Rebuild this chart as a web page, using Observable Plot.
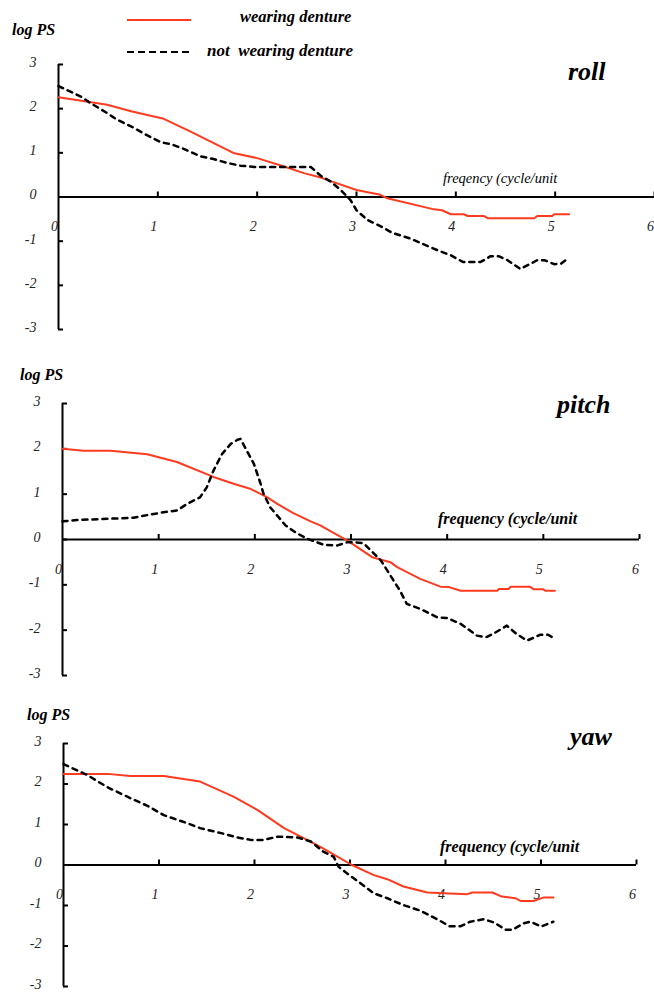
<!DOCTYPE html>
<html><head><meta charset="utf-8">
<script src="https://cdn.jsdelivr.net/npm/d3@7"></script>
<script src="https://cdn.jsdelivr.net/npm/@observablehq/plot@0.6"></script>
<style>
body{margin:0;background:#fff;}
#root{position:relative;width:654px;height:992px;overflow:hidden;font-family:"Liberation Serif","Times New Roman",serif;}
.panel{position:absolute;left:0;}
.lbl{position:absolute;white-space:pre;font-style:italic;line-height:1;color:#000;transform:translateY(-50%);}
.b{font-weight:bold;}
</style></head><body><div id="root"></div>
<script>
// ---- tick values ----
const xTicks = [1, 2, 3, 4, 5, 6];
const xTickLabels = [0, 1, 2, 3, 4, 5, 6];
const yTicks = [-3, -2, -1, 0, 1, 2, 3];
const seriesNames = ["wearing denture", "not  wearing denture"];
const panelNames = ["roll", "pitch", "yaw"];

// ---- roll ----
const rollWearF = [0,0.49,0.73,1.06,1.33,1.77,2.0,2.27,2.47,2.64,2.74,3.0,3.24,3.31,3.78,3.86,3.95,4.08,4.12,4.28,4.32,4.79,4.82,4.97,4.99,5.14];
const rollWearV = [2.26,2.09,1.94,1.77,1.48,0.99,0.88,0.69,0.54,0.44,0.36,0.16,0.05,-0.03,-0.28,-0.30,-0.39,-0.39,-0.43,-0.43,-0.48,-0.48,-0.43,-0.43,-0.39,-0.39];
const rollNoF = [0,0.22,0.32,0.49,0.59,0.73,0.89,1.03,1.14,1.26,1.43,1.56,1.70,1.83,1.97,2.27,2.54,2.64,2.74,2.84,2.94,3.0,3.11,3.24,3.36,3.54,3.81,3.95,4.07,4.25,4.35,4.43,4.52,4.65,4.82,4.89,4.99,5.06,5.14];
const rollNoV = [2.51,2.28,2.13,1.90,1.75,1.60,1.40,1.24,1.19,1.09,0.92,0.86,0.77,0.71,0.68,0.68,0.68,0.48,0.35,0.16,-0.07,-0.30,-0.52,-0.66,-0.81,-0.94,-1.20,-1.32,-1.47,-1.47,-1.34,-1.34,-1.43,-1.63,-1.43,-1.43,-1.52,-1.51,-1.37];

// ---- pitch ----
const pitchWearF = [0,0.22,0.5,0.88,1.19,1.57,1.78,1.95,2.13,2.23,2.40,2.58,2.68,2.79,2.96,3.22,3.41,3.48,3.72,3.93,4.02,4.14,4.52,4.54,4.64,4.66,4.86,4.90,5.0,5.02,5.12];
const pitchWearV = [2.0,1.96,1.96,1.88,1.71,1.38,1.23,1.12,0.93,0.79,0.58,0.40,0.31,0.18,-0.02,-0.39,-0.50,-0.61,-0.87,-1.04,-1.05,-1.13,-1.13,-1.09,-1.09,-1.04,-1.04,-1.10,-1.10,-1.13,-1.13];
const pitchNoF = [0,0.15,0.74,0.91,1.05,1.19,1.30,1.43,1.50,1.57,1.66,1.75,1.82,1.85,1.99,2.06,2.09,2.16,2.32,2.42,2.54,2.72,2.86,2.96,3.03,3.13,3.31,3.51,3.58,3.72,3.90,4.0,4.14,4.31,4.40,4.48,4.62,4.72,4.83,4.97,5.05,5.12];
const pitchNoV = [0.40,0.43,0.48,0.55,0.60,0.64,0.79,0.93,1.15,1.52,1.89,2.11,2.20,2.22,1.67,1.23,1.01,0.71,0.31,0.16,0.02,-0.12,-0.13,-0.06,-0.06,-0.08,-0.46,-1.13,-1.42,-1.53,-1.72,-1.73,-1.86,-2.12,-2.16,-2.08,-1.90,-2.08,-2.23,-2.10,-2.10,-2.19];

// ---- yaw ----
const yawWearF = [0,0.46,0.70,1.05,1.43,1.78,2.03,2.31,2.55,2.69,2.80,3.02,3.25,3.39,3.56,3.81,3.98,4.23,4.28,4.49,4.59,4.73,4.79,4.92,5.03,5.13];
const yawWearV = [2.25,2.25,2.20,2.20,2.06,1.69,1.36,0.91,0.62,0.45,0.30,0.0,-0.25,-0.35,-0.53,-0.68,-0.70,-0.72,-0.68,-0.68,-0.78,-0.82,-0.89,-0.89,-0.80,-0.80];
const yawNoF = [0,0.25,0.46,0.70,0.88,1.05,1.30,1.43,1.68,1.82,1.96,2.10,2.24,2.45,2.59,2.72,2.83,2.88,2.97,3.11,3.25,3.39,3.56,3.74,3.93,4.04,4.16,4.26,4.40,4.51,4.63,4.70,4.82,4.89,5.0,5.13];
const yawNoV = [2.49,2.22,1.92,1.65,1.46,1.23,1.03,0.91,0.77,0.68,0.62,0.62,0.70,0.68,0.58,0.33,0.20,-0.04,-0.21,-0.45,-0.70,-0.82,-0.99,-1.13,-1.36,-1.51,-1.51,-1.40,-1.34,-1.42,-1.60,-1.60,-1.44,-1.40,-1.52,-1.40];

const RED = "#ff3b1f";
const zip = (F, V) => F.map((f, i) => ({f, v: V[i]}));

function makePanel({top, height, marginLeft, marginRight, marginTop, marginBottom, wear, nowear}) {
  const width = 654;
  const frameW = width - marginLeft - marginRight;
  const frameH = height - marginTop - marginBottom;
  const svg = Plot.plot({
    width, height, marginLeft, marginRight, marginTop, marginBottom,
    x: {domain: [0, 6], axis: null},
    y: {domain: [-3, 3], axis: null},
    style: {fontFamily: "'Liberation Serif', 'Times New Roman', serif", fontStyle: "italic", fontSize: "14px", background: "transparent", color: "#000"},
    marks: [
      Plot.ruleY([0], {stroke: "#000", strokeWidth: 1.8}),
      Plot.ruleX([0], {y1: -3, y2: 3, stroke: "#000", strokeWidth: 2}),
      Plot.tickY(yTicks, {y: d => d, insetRight: frameW - 5, stroke: "#000", strokeWidth: 2}),
      Plot.tickX(xTicks, {x: d => d, insetTop: frameH / 2 - 5, insetBottom: frameH / 2, stroke: "#000", strokeWidth: 2}),
      Plot.axisY({ticks: yTicks, tickSize: 0, tickPadding: 22, dy: -2, tickFormat: d => String(d), label: null, fill: "#222"}),
      Plot.text(xTickLabels, {x: d => d, y: 0, dy: 30, dx: -4, text: d => String(d), fill: "#222"}),
      Plot.line(zip(...wear), {x: "f", y: "v", stroke: RED, strokeWidth: 2}),
      Plot.line(zip(...nowear), {x: "f", y: "v", stroke: "#000", strokeWidth: 2.5, strokeDasharray: "5,5"})
    ]
  });
  const div = document.createElement("div");
  div.className = "panel";
  div.style.top = top + "px";
  div.appendChild(svg);
  return div;
}

const root = document.getElementById("root");
root.appendChild(makePanel({top: 0, height: 345, marginLeft: 58, marginRight: 0, marginTop: 64, marginBottom: 16, wear: [rollWearF, rollWearV], nowear: [rollNoF, rollNoV]}));
root.appendChild(makePanel({top: 345, height: 340, marginLeft: 62, marginRight: 15, marginTop: 58, marginBottom: 10, wear: [pitchWearF, pitchWearV], nowear: [pitchNoF, pitchNoV]}));
root.appendChild(makePanel({top: 685, height: 307, marginLeft: 63, marginRight: 18, marginTop: 58, marginBottom: 6, wear: [yawWearF, yawWearV], nowear: [yawNoF, yawNoV]}));

function label(text, left, cy, size, bold) {
  const d = document.createElement("div");
  d.className = "lbl" + (bold ? " b" : "");
  d.style.left = left + "px";
  d.style.top = cy + "px";
  d.style.fontSize = size + "px";
  d.textContent = text;
  root.appendChild(d);
}
// legend swatches
const ns = "http://www.w3.org/2000/svg";
function swatch(cy, color, dash) {
  const s = document.createElementNS(ns, "svg");
  s.setAttribute("width", 64); s.setAttribute("height", 6);
  s.style.position = "absolute"; s.style.left = "127px"; s.style.top = (cy - 3) + "px";
  const l = document.createElementNS(ns, "line");
  l.setAttribute("x1", 0); l.setAttribute("x2", 64); l.setAttribute("y1", 3); l.setAttribute("y2", 3);
  l.setAttribute("stroke", color); l.setAttribute("stroke-width", 2);
  if (dash) l.setAttribute("stroke-dasharray", dash);
  s.appendChild(l);
  root.appendChild(s);
}
swatch(20, RED, null);
swatch(52, "#000", "7,4");
label(seriesNames[0], 240, 17, 16.5, true);
label(seriesNames[1], 207, 50, 17, true);

label("log PS", 12, 30, 16, true);
label(panelNames[0], 568, 72, 26, true);
label("freqency (cycle/unit", 443, 178, 14.5, false);

label("log PS", 20, 375, 16, true);
label(panelNames[1], 557, 405, 26, true);
label("frequency (cycle/unit", 438, 519, 16, true);

label("log PS", 27, 715, 16, true);
label(panelNames[2], 570, 737, 26, true);
label("frequency (cycle/unit", 440, 847, 16, true);
</script></body></html>
